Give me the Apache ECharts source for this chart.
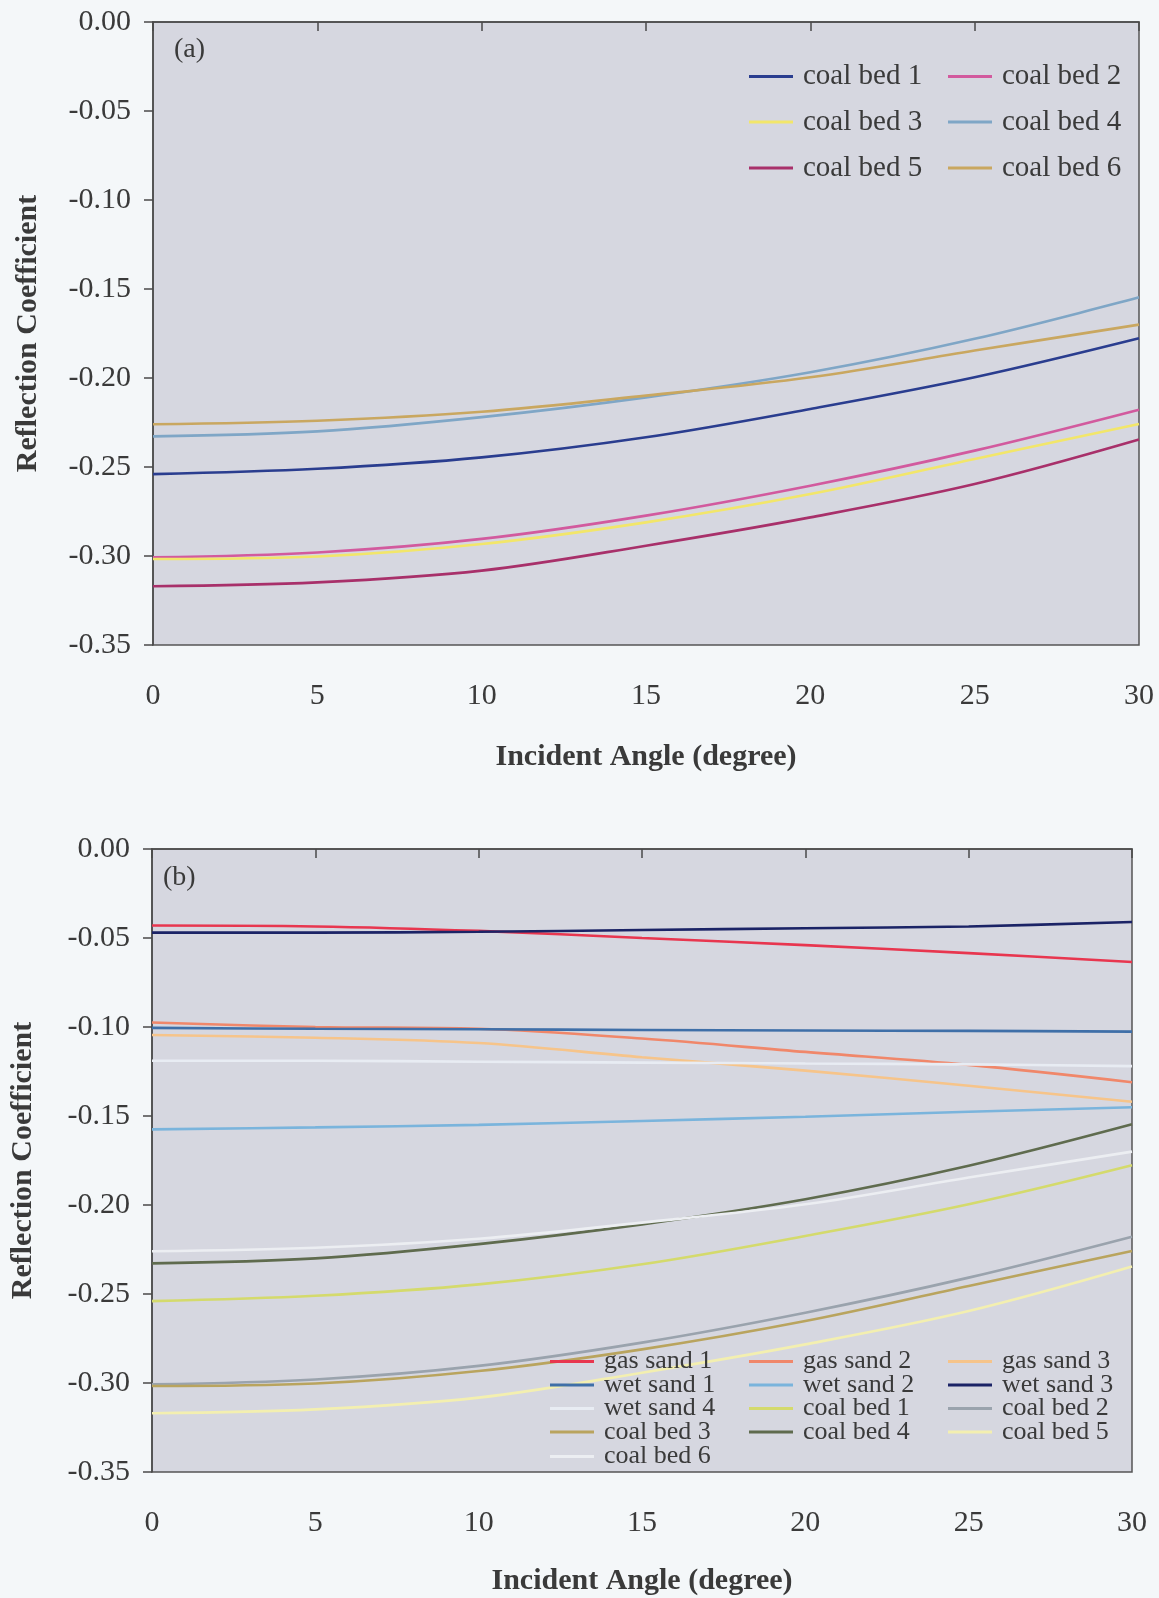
<!DOCTYPE html>
<html><head><meta charset="utf-8">
<script src="https://cdn.jsdelivr.net/npm/echarts@6/dist/echarts.min.js"></script>
<style>html,body{margin:0;padding:0;background:#f4f7f9;}#c{width:1159px;height:1598px;}</style>
</head><body><div id="c"></div>
<script>
// ---- data ----
const angles = [0, 5, 10, 15, 20, 25, 30];
const coalBed1 = [-0.2540, -0.2510, -0.2446, -0.2333, -0.2174, -0.1996, -0.1777];
const coalBed2 = [-0.3007, -0.2980, -0.2904, -0.2773, -0.2605, -0.2408, -0.2178];
const coalBed3 = [-0.3017, -0.3003, -0.2933, -0.2811, -0.2652, -0.2455, -0.2258];
const coalBed4 = [-0.2328, -0.2300, -0.2220, -0.2109, -0.1968, -0.1780, -0.1547];
const coalBed5 = [-0.3170, -0.3148, -0.3082, -0.2942, -0.2783, -0.2596, -0.2346];
const coalBed6 = [-0.2260, -0.2240, -0.2190, -0.2099, -0.1996, -0.1846, -0.1700];
const gasSand1 = [-0.0430, -0.0435, -0.0460, -0.0500, -0.0540, -0.0585, -0.0635];
const gasSand2 = [-0.0975, -0.1000, -0.1010, -0.1065, -0.1140, -0.1213, -0.1310];
const gasSand3 = [-0.1045, -0.1060, -0.1090, -0.1170, -0.1245, -0.1330, -0.1420];
const wetSand1 = [-0.1005, -0.1010, -0.1013, -0.1017, -0.1020, -0.1022, -0.1026];
const wetSand2 = [-0.1575, -0.1564, -0.1550, -0.1528, -0.1504, -0.1476, -0.1451];
const wetSand3 = [-0.0470, -0.0470, -0.0465, -0.0455, -0.0445, -0.0435, -0.0410];
const wetSand4 = [-0.1190, -0.1190, -0.1195, -0.1200, -0.1205, -0.1210, -0.1220];
const yMin = -0.35, yMax = 0, yStep = 0.05;
const xMin = 0, xMax = 30, xStep = 5;
const panelLabels = ['(a)', '(b)'];
const xName = 'Incident Angle (degree)';
const yName = 'Reflection Coefficient';

// panel (a) series: name, values, colour
const panelA = [
  ['coal bed 1', coalBed1, '#2a3d8f'],
  ['coal bed 2', coalBed2, '#d25a9e'],
  ['coal bed 3', coalBed3, '#f2e66a'],
  ['coal bed 4', coalBed4, '#7fa6c6'],
  ['coal bed 5', coalBed5, '#a8306a'],
  ['coal bed 6', coalBed6, '#c9a760']
];
const panelB = [
  ['gas sand 1', gasSand1, '#e8364f'],
  ['gas sand 2', gasSand2, '#f0876a'],
  ['gas sand 3', gasSand3, '#f6c48a'],
  ['wet sand 1', wetSand1, '#3f6fa8'],
  ['wet sand 2', wetSand2, '#7ab4dc'],
  ['wet sand 3', wetSand3, '#1b2366'],
  ['wet sand 4', wetSand4, '#e8ecf3'],
  ['coal bed 1', coalBed1, '#d4da6c'],
  ['coal bed 2', coalBed2, '#9aa3ad'],
  ['coal bed 3', coalBed3, '#b9a45e'],
  ['coal bed 4', coalBed4, '#5f6b4e'],
  ['coal bed 5', coalBed5, '#f3efb0'],
  ['coal bed 6', coalBed6, '#eceef2']
];

// ---- layout / style ----
const FONT = '"Liberation Serif", "Times New Roman", serif';
const TXT = '#3a3a3a';
const grids = [
  {left: 153, top: 22, width: 986, height: 623},
  {left: 146, top: 849, width: 986, height: 623}
];

function mkSeries(list, idx) {
  return list.map(([name, vals, color]) => ({
    name, type: 'line', xAxisIndex: idx, yAxisIndex: idx,
    data: angles.map((a, i) => [a, vals[i]]),
    symbol: 'none', smooth: 0.35, silent: true,
    lineStyle: {color, width: 2.6}, itemStyle: {color}
  }));
}
function mkLegends(list, cols, rows, fontSize, lh) {
  return list.map(([name, vals, color], k) => ({
    left: cols[k % cols.length], top: rows[Math.floor(k / cols.length)] - lh / 2,
    padding: 0, itemWidth: 44, itemHeight: 3, selectedMode: false,
    data: [{name, icon: 'rect', itemStyle: {color, borderWidth: 0}}],
    textStyle: {fontFamily: FONT, fontSize, lineHeight: lh, color: TXT, padding: [0, 0, 0, 5]}
  }));
}
function mkX(idx, gap) {
  return {
    type: 'value', gridIndex: idx, min: xMin, max: xMax, interval: xStep,
    name: xName, nameLocation: 'middle', nameGap: gap,
    nameTextStyle: {fontFamily: FONT, fontSize: 30, fontWeight: 'bold', color: TXT},
    axisLine: {lineStyle: {color: '#4a4a4a', width: 1.5}},
    axisTick: {show: true, length: 9, lineStyle: {color: '#4a4a4a', width: 1.5}},
    axisLabel: {fontFamily: FONT, fontSize: 30, color: TXT, margin: 36},
    splitLine: {show: false}
  };
}
function mkY(idx, gap) {
  return {
    type: 'value', gridIndex: idx, min: yMin, max: yMax, interval: yStep,
    name: yName, nameLocation: 'middle', nameGap: gap,
    nameTextStyle: {fontFamily: FONT, fontSize: 30, fontWeight: 'bold', color: TXT},
    axisLine: {show: true, onZero: false, lineStyle: {color: '#4a4a4a', width: 1.5}},
    axisTick: {show: true, length: 9, lineStyle: {color: '#4a4a4a', width: 1.5}},
    axisLabel: {fontFamily: FONT, fontSize: 30, color: TXT, margin: 22,
      formatter: v => (Math.abs(v) < 1e-9 ? 0 : v).toFixed(2)},
    splitLine: {show: false}
  };
}

const chart = echarts.init(document.getElementById('c'), null, {renderer: 'canvas'});
chart.setOption({
  backgroundColor: '#f4f7f9',
  animation: false,
  grid: grids.map(g => Object.assign({show: true, backgroundColor: '#d6d7e0',
    borderColor: '#555', borderWidth: 1.5}, g)),
  xAxis: [mkX(0, 97), mkX(1, 94)],
  yAxis: [mkY(0, 110), mkY(1, 114)],
  legend: mkLegends(panelA, [749, 948], [76.5, 122, 168], 29, 30)
    .concat(mkLegends(panelB, [550, 749, 948], [1360, 1383.5, 1407, 1430.5, 1455], 26, 23)),
  graphic: [
    {type: 'text', left: 174, top: 36, style: {text: panelLabels[0], font: '28px ' + FONT, fill: TXT}},
    {type: 'text', left: 163, top: 864, style: {text: panelLabels[1], font: '28px ' + FONT, fill: TXT}}
  ],
  series: mkSeries(panelA, 0).concat(mkSeries(panelB, 1))
});
</script></body></html>
